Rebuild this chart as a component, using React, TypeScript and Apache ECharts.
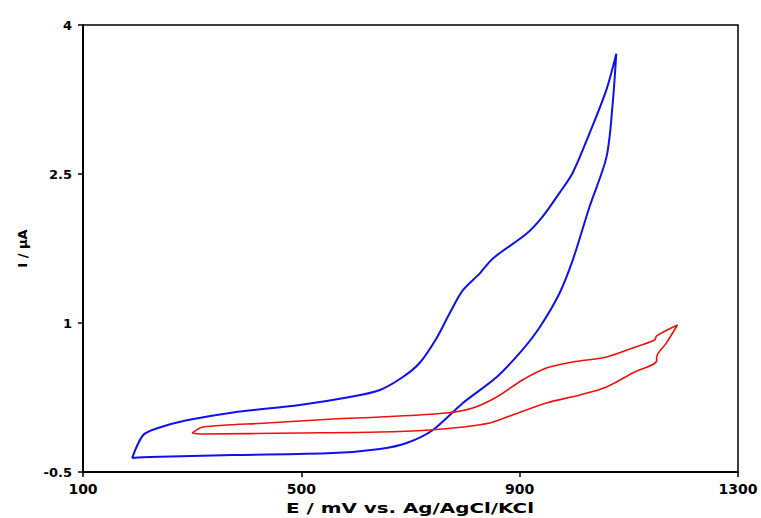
import React, { useEffect, useRef } from "react";
import * as echarts from "echarts";

// Curve a (blue): forward (anodic) branch then return branch, E in mV, I in µA
const curveAForwardE = [190, 210, 236, 290, 375, 497, 589, 644, 686, 717, 748, 772, 796, 827, 851, 913, 942, 973, 997, 1028, 1059, 1077];
const curveAForwardI = [-0.36, -0.13, -0.06, 0.02, 0.1, 0.175, 0.255, 0.326, 0.456, 0.6, 0.85, 1.1, 1.33, 1.5, 1.65, 1.9, 2.07, 2.31, 2.51, 2.91, 3.35, 3.71];
const curveAReturnE = [1070, 1059, 1028, 997, 973, 937, 905, 858, 796, 741, 693, 644, 558, 375, 223, 190];
const curveAReturnI = [3.18, 2.67, 2.17, 1.63, 1.3, 0.96, 0.73, 0.456, 0.195, -0.077, -0.208, -0.268, -0.309, -0.33, -0.35, -0.36];

// Curve b (red)
const curveBForwardE = [300, 320, 437, 558, 644, 766, 814, 858, 905, 949, 997, 1059, 1107, 1147, 1151, 1189];
const curveBForwardI = [-0.107, -0.047, -0.007, 0.034, 0.054, 0.094, 0.144, 0.255, 0.426, 0.547, 0.607, 0.658, 0.748, 0.829, 0.87, 0.98];
const curveBReturnE = [1169, 1151, 1151, 1107, 1059, 1010, 949, 887, 845, 796, 735, 644, 497, 314, 300];
const curveBReturnI = [0.8, 0.658, 0.62, 0.497, 0.356, 0.275, 0.195, 0.074, -0.007, -0.047, -0.077, -0.097, -0.107, -0.117, -0.107];

const xTicks = [100, 1300, 400];
const yTicks = [-0.5, 4, 1.5];
const curveLabels = ["a", "b"];
const xTitle = "E / mV vs. Ag/AgCl/KCl";
const yTitle = "I / µA";

const FONT = "DejaVu Sans";

function build(fe: number[], fi: number[], re: number[], ri: number[], label: string) {
  const pts: any[] = [];
  fe.forEach((e, i) => {
    const last = i === fe.length - 1;
    pts.push(
      last
        ? {
            value: [e, fi[i]],
            label: {
              show: true,
              formatter: label,
              position: "right",
              distance: 7,
              color: "#000",
              fontWeight: "bold",
              fontSize: 13,
              fontFamily: FONT,
            },
          }
        : [e, fi[i]]
    );
  });
  re.forEach((e, i) => pts.push([e, ri[i]]));
  return pts;
}

export default function App() {
  const ref = useRef<HTMLDivElement>(null);
  useEffect(() => {
    const chart = echarts.init(ref.current!, null, { renderer: "svg" });
    chart.setOption({
      animation: false,
      backgroundColor: "#fff",
      grid: {
        left: 83,
        right: 23,
        top: 25,
        bottom: 46,
        show: true,
        borderColor: "#000",
        borderWidth: 1.5,
      },
      graphic: [
        {
          type: "text",
          x: 410,
          y: 508,
          scaleX: 1.42,
          style: {
            text: xTitle,
            font: `bold 14px "${FONT}"`,
            fill: "#000",
            textAlign: "center",
            textVerticalAlign: "middle",
          },
        },
      ],
      xAxis: {
        type: "value",
        min: xTicks[0],
        max: xTicks[1],
        interval: xTicks[2],
        axisLine: { onZero: false, lineStyle: { color: "#000", width: 2 } },
        axisTick: { show: true, length: 5, lineStyle: { color: "#000", width: 1.5 } },
        axisLabel: {
          fontFamily: FONT,
          fontWeight: "bold",
          fontSize: 14,
          color: "#000",
          margin: 10,
          formatter: (v: number) => String(v),
        },
        splitLine: { show: false },
      },
      yAxis: {
        type: "value",
        min: yTicks[0],
        max: yTicks[1],
        interval: yTicks[2],
        name: yTitle,
        nameLocation: "middle",
        nameGap: 54,
        nameRotate: 90,
        nameTextStyle: { fontFamily: FONT, fontWeight: "bold", fontSize: 13, color: "#000" },
        axisLine: { onZero: false, lineStyle: { color: "#000", width: 2 } },
        axisTick: { show: true, length: 5, lineStyle: { color: "#000", width: 1.5 } },
        axisLabel: {
          fontFamily: FONT,
          fontWeight: "bold",
          fontSize: 13,
          color: "#000",
          margin: 11,
          formatter: (v: number) => String(v),
        },
        splitLine: { show: false },
      },
      series: [
        {
          type: "line",
          name: curveLabels[0],
          data: build(curveAForwardE, curveAForwardI, curveAReturnE, curveAReturnI, curveLabels[0]),
          showSymbol: false,
          symbol: "none",
          smooth: 0.3,
          lineStyle: { color: "#1010f0", width: 2 },
          itemStyle: { color: "#1010f0" },
        },
        {
          type: "line",
          name: curveLabels[1],
          data: build(curveBForwardE, curveBForwardI, curveBReturnE, curveBReturnI, curveLabels[1]),
          showSymbol: false,
          symbol: "none",
          smooth: 0.3,
          lineStyle: { color: "#f01010", width: 1.6 },
          itemStyle: { color: "#f01010" },
        },
      ],
    });
    return () => chart.dispose();
  }, []);
  return (
    <div
      ref={ref}
      style={{ position: "fixed", left: 0, top: 0, width: 761, height: 518, background: "#fff" }}
    />
  );
}
